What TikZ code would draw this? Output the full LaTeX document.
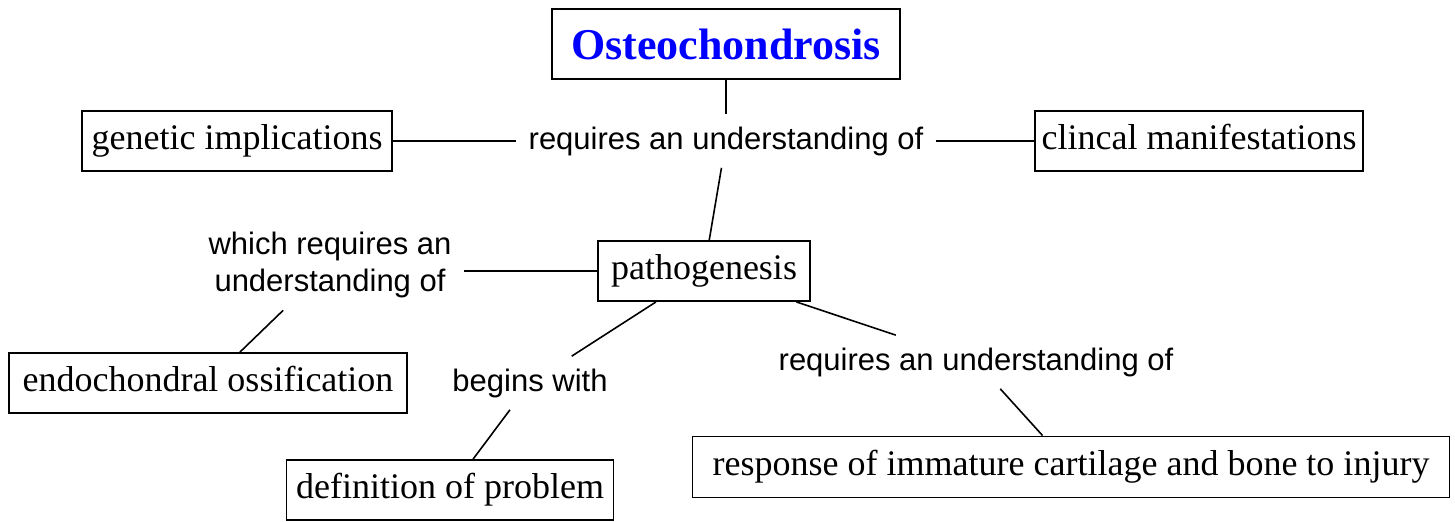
\documentclass[tikz,border=0pt]{standalone}
\usepackage{fontspec}
\setmainfont{Liberation Serif}
\setsansfont{Liberation Sans}
\usepackage{tikz}
\usetikzlibrary{positioning}
\definecolor{titleblue}{RGB}{0,0,255}

\begin{document}
\begin{tikzpicture}[x=0.5pt, y=-0.5pt,
  concept/.style={draw, line width=0.9pt, minimum height=30pt, inner sep=0pt,
    text height=12.3pt, text depth=4pt, font=\fontsize{18}{20}\selectfont},
  linkword/.style={font=\sffamily\fontsize{15.5}{18.5}\selectfont, align=center, inner sep=6pt},
  link/.style={line width=0.8pt}]
\useasboundingbox (0,0) rectangle (1455,521);
% concepts
\node[concept, minimum width=174pt, minimum height=35pt, text=titleblue,
  text height=15pt, text depth=0pt,
  font=\bfseries\fontsize{22}{24}\selectfont] (osteo) at (726,44) {Osteochondrosis};
\node[concept, minimum width=155pt] (genetic) at (237,141) {genetic implications};
\node[concept, minimum width=164pt] (clinical) at (1199,141) {clincal manifestations};
\node[concept, minimum width=106pt] (patho) at (704,271) {pathogenesis};
\node[concept, minimum width=199pt] (endo) at (208,383) {endochondral ossification};
\node[concept, minimum width=163.5pt] (defin) at (450,490) {definition of problem};
\node[concept, minimum width=378.5pt, minimum height=30.5pt] (response) at (1071,467) {response of immature cartilage and bone to injury};
% linking words
\node[linkword] (upper) at (726,141) {requires an understanding of};
\node[linkword] (which) at (330,265) {which requires an\\understanding of};
\node[linkword] (begins) at (530,383) {begins with};
\node[linkword] (lower) at (976,362) {requires an understanding of};
% links
\draw[link] (osteo) -- (upper);
\draw[link] (genetic) -- (upper);
\draw[link] (upper) -- (clinical);
\draw[link] (upper) -- (patho);
\draw[link] (patho.west) -- (patho.west -| which.east);
\draw[link] (which) -- (endo);
\draw[link] (patho) -- (begins);
\draw[link] (begins) -- (defin);
\draw[link] (patho) -- (lower);
\draw[link] (lower) -- (response);
\end{tikzpicture}
\end{document}
